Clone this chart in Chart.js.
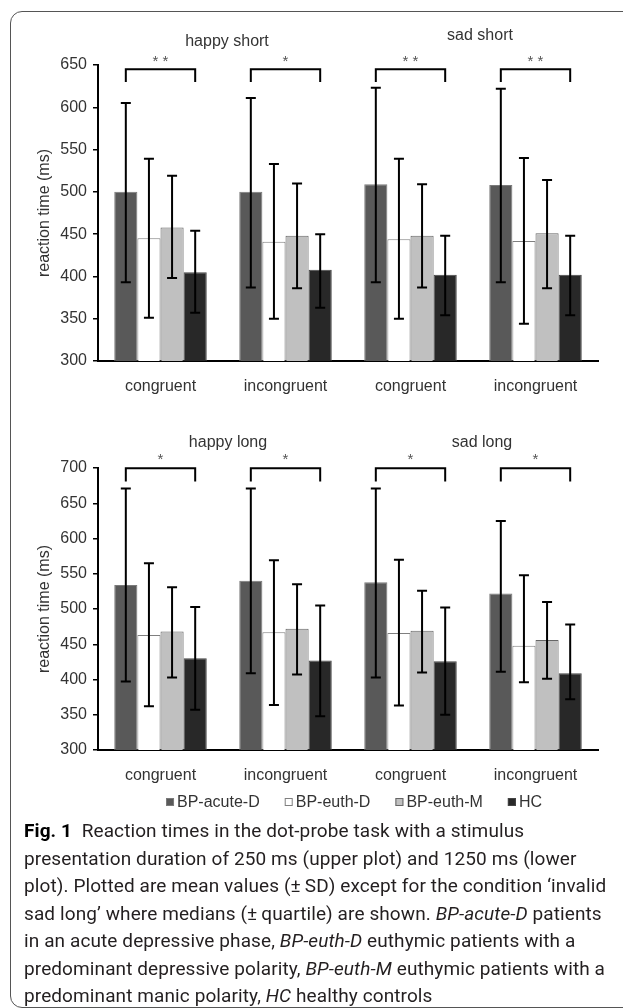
<!DOCTYPE html>
<html>
<head>
<meta charset="utf-8">
<title>Reaction times</title>
<script src="https://cdn.jsdelivr.net/npm/chart.js@4.4.1/dist/chart.umd.min.js"></script>
<style>
  html, body { margin: 0; padding: 0; background: #fff; }
  body { width: 623px; height: 1008px; position: relative; overflow: hidden; }
  .frame {
    position: absolute; left: 10px; top: 11px; width: 660px; height: 997px;
    border: 1px solid #555; border-radius: 12px; box-sizing: border-box;
  }
  canvas { position: absolute; left: 0; }
  #shortChart { top: 0; }
  #longChart { top: 400px; }
  .caption {
    position: absolute; left: 24px; top: 817px;
    font-family: Roboto, sans-serif; font-size: 19px; line-height: 27.5px;
    letter-spacing: 0.1px; color: #231f20; white-space: nowrap;
  }
  .caption b { color: #000; }
</style>
</head>
<body>
<div class="frame"></div>
<canvas id="shortChart" width="623" height="400"></canvas>
<canvas id="longChart" width="623" height="420"></canvas>
<div class="caption">
  <b>Fig. 1</b>&nbsp; Reaction times in the dot-probe task with a stimulus<br>
  presentation duration of 250 ms (upper plot) and 1250 ms (lower<br>
  plot). Plotted are mean values (±&#8201;SD) except for the condition ‘invalid<br>
  sad long’ where medians (±&#8201;quartile) are shown. <i>BP-acute-D</i> patients<br>
  in an acute depressive phase, <i>BP-euth-D</i> euthymic patients with a<br>
  predominant depressive polarity, <i>BP-euth-M</i> euthymic patients with a<br>
  predominant manic polarity, <i>HC</i> healthy controls
</div>

<script>
// categories and groups
const conditions = ["congruent", "incongruent", "congruent", "incongruent"];
const groups = ["BP-acute-D", "BP-euth-D", "BP-euth-M", "HC"];
const groupFill = ["#595959", "#ffffff", "#c0c0c0", "#282828"];
const groupEdge = ["#7a7a7a", "#7f7f7f", "#666666", "#444444"];

// upper plot: 250 ms presentation
const shortTitles = ["happy short", "sad short"];
const shortAcuteD = [500, 500, 509, 508];
const shortEuthD = [445, 441, 444, 442];
const shortEuthM = [458, 448, 448, 451];
const shortHC = [405, 408, 402, 402];
// error bars as [low, high]
const shortAcuteDErr = [[393, 605], [387, 611], [393, 623], [393, 622]];
const shortEuthDErr = [[351, 539], [350, 533], [350, 539], [344, 540]];
const shortEuthMErr = [[398, 519], [386, 510], [387, 509], [386, 514]];
const shortHCErr = [[357, 454], [363, 450], [354, 448], [354, 448]];
const shortStars = ["* *", "*", "* *", "* *"];

// lower plot: 1250 ms presentation
const longTitles = ["happy long", "sad long"];
const longAcuteD = [534, 540, 538, 522];
const longEuthD = [463, 467, 466, 448];
const longEuthM = [468, 472, 469, 456];
const longHC = [430, 427, 426, 409];
const longAcuteDErr = [[397, 671], [409, 671], [403, 671], [411, 625]];
const longEuthDErr = [[362, 565], [364, 569], [363, 570], [396, 548]];
const longEuthMErr = [[403, 531], [407, 535], [410, 526], [401, 510]];
const longHCErr = [[357, 503], [348, 505], [350, 502], [372, 478]];
const longStars = ["*", "*", "*", "*"];

const axisFont = { family: "Liberation Sans", size: 16 };
const textColor = "#333";

/**
 * Error bars, significance brackets and panel titles drawn on top of the bars
 * @param {Object} cfg - ranges, stars, bracket levels, titles
 */
function overlayPlugin(cfg) {
  return {
    id: "overlay",
    afterDraw(chart) {
      const ctx = chart.ctx;
      const x = chart.scales.x;
      const y = chart.scales.y;
      ctx.save();

      // error bars
      ctx.strokeStyle = "#000";
      ctx.lineWidth = 2;
      cfg.ranges.forEach((range, d) => {
        chart.getDatasetMeta(d).data.forEach((bar, i) => {
          const yl = y.getPixelForValue(range[i][0]);
          const yh = y.getPixelForValue(range[i][1]);
          ctx.beginPath();
          ctx.moveTo(bar.x, yl);
          ctx.lineTo(bar.x, yh);
          ctx.moveTo(bar.x - 5, yl);
          ctx.lineTo(bar.x + 5, yl);
          ctx.moveTo(bar.x - 5, yh);
          ctx.lineTo(bar.x + 5, yh);
          ctx.stroke();
        });
      });

      // brackets between BP-acute-D and HC
      const first = chart.getDatasetMeta(0).data;
      const last = chart.getDatasetMeta(3).data;
      const yTop = y.getPixelForValue(cfg.bracketTop);
      const yEnd = y.getPixelForValue(cfg.bracketEnd);
      const yStar = y.getPixelForValue(cfg.starAt);
      ctx.font = "15px 'Liberation Sans'";
      ctx.textAlign = "center";
      ctx.textBaseline = "middle";
      first.forEach((bar, i) => {
        const x1 = bar.x;
        const x2 = last[i].x;
        ctx.beginPath();
        ctx.moveTo(x1, yEnd);
        ctx.lineTo(x1, yTop);
        ctx.lineTo(x2, yTop);
        ctx.lineTo(x2, yEnd);
        ctx.stroke();
        ctx.fillStyle = "#555";
        ctx.fillText(cfg.stars[i], (x1 + x2) / 2, yStar);
      });

      // panel titles over each pair of conditions
      ctx.font = "16px 'Liberation Sans'";
      ctx.fillStyle = textColor;
      cfg.titles.forEach((t, k) => {
        const cx = (x.getPixelForValue(2 * k) + x.getPixelForValue(2 * k + 1)) / 2;
        ctx.fillText(t, cx + cfg.titleDx[k], chart.chartArea.top + cfg.titleDy[k]);
      });
      ctx.restore();
    },
  };
}

/**
 * Legend row centred under the plot area
 */
const legendRow = {
  id: "legendRow",
  afterDraw(chart) {
    const ctx = chart.ctx;
    const area = chart.chartArea;
    const rowY = 402;
    ctx.save();
    ctx.font = "16px 'Liberation Sans'";
    ctx.textBaseline = "middle";
    ctx.textAlign = "left";
    const box = 8, gap = 3, spacing = 25;
    const widths = groups.map((g) => box + gap + ctx.measureText(g).width);
    const total = widths.reduce((a, b) => a + b, 0) + spacing * (groups.length - 1);
    let cx = (area.left + area.right) / 2 + 6 - total / 2;
    groups.forEach((g, i) => {
      ctx.fillStyle = groupFill[i];
      ctx.fillRect(cx, rowY - box / 2, box, box);
      ctx.strokeStyle = groupEdge[i];
      ctx.lineWidth = 1;
      ctx.strokeRect(cx + 0.5, rowY - box / 2 + 0.5, box - 1, box - 1);
      ctx.fillStyle = textColor;
      ctx.fillText(g, cx + box + gap, rowY + 1);
      cx += widths[i] + spacing;
    });
    ctx.restore();
  },
};

function makeDatasets(series) {
  return series.map((values, i) => ({
    label: groups[i],
    data: values,
    backgroundColor: groupFill[i],
    borderColor: groupEdge[i],
    borderWidth: 1,
    categoryPercentage: 0.74,
    barPercentage: 1,
  }));
}

function makeOptions(yMax, padTop, padBottom) {
  return {
    responsive: false,
    animation: false,
    layout: { padding: { top: padTop, right: 25, bottom: padBottom, left: 0 } },
    plugins: { legend: { display: false }, tooltip: { enabled: false } },
    scales: {
      x: {
        grid: { display: false },
        border: { display: true, color: "#000", width: 2 },
        ticks: { color: textColor, font: axisFont, padding: 8 },
        afterFit: (s) => { s.height = 39; },
      },
      y: {
        min: 300,
        max: yMax,
        ticks: { stepSize: 50, color: textColor, font: axisFont, padding: 6 },
        grid: { drawOnChartArea: false, drawTicks: true, tickLength: 5, color: "#000", lineWidth: 1.5 },
        border: { display: true, color: "#000", width: 2 },
        title: {
          display: true,
          text: "reaction time (ms)",
          color: textColor,
          font: axisFont,
          padding: { top: 35, bottom: 0 },
        },
        afterFit: (s) => { s.width = 98; },
      },
    },
  };
}

new Chart(document.getElementById("shortChart"), {
  type: "bar",
  data: {
    labels: conditions,
    datasets: makeDatasets([shortAcuteD, shortEuthD, shortEuthM, shortHC]),
  },
  options: makeOptions(650, 65, 0),
  plugins: [overlayPlugin({
    ranges: [shortAcuteDErr, shortEuthDErr, shortEuthMErr, shortHCErr],
    stars: shortStars,
    bracketTop: 645,
    bracketEnd: 630,
    starAt: 654,
    titles: shortTitles,
    titleDx: [4, 7],
    titleDy: [-23, -29],
  })],
});

new Chart(document.getElementById("longChart"), {
  type: "bar",
  data: {
    labels: conditions,
    datasets: makeDatasets([longAcuteD, longEuthD, longEuthM, longHC]),
  },
  options: makeOptions(700, 68, 31),
  plugins: [overlayPlugin({
    ranges: [longAcuteDErr, longEuthDErr, longEuthMErr, longHCErr],
    stars: longStars,
    bracketTop: 699.5,
    bracketEnd: 681,
    starAt: 711,
    titles: longTitles,
    titleDx: [5, 9],
    titleDy: [-25, -25],
  }), legendRow],
});
</script>
</body>
</html>
